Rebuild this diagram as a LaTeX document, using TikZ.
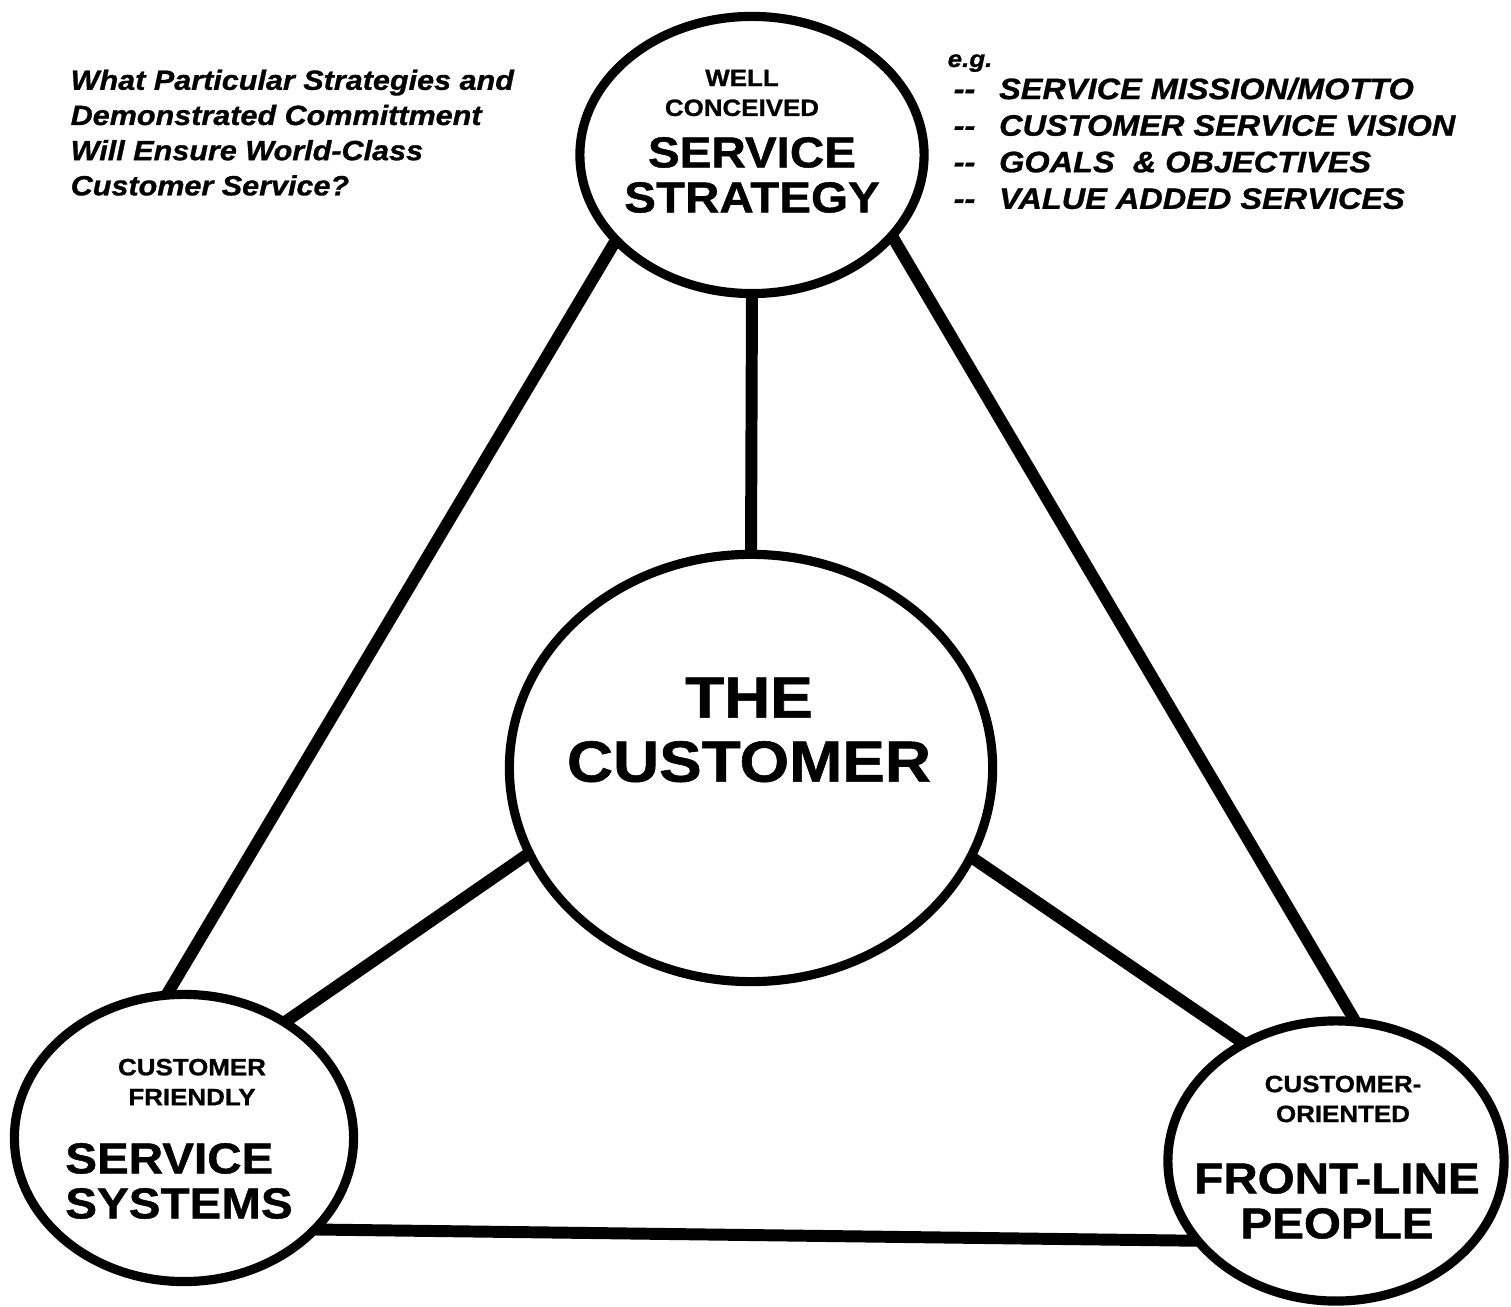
\documentclass[tikz,border=0pt]{standalone}
\usepackage{fontspec}
\setmainfont{Liberation Sans}[FakeStretch=1.1,
  BoldFeatures={FakeBold=1}, BoldItalicFeatures={FakeBold=1}]
\usetikzlibrary{shapes.geometric}
\tikzset{
  oval/.style={ellipse, draw=black, line width=2.6pt, inner sep=0pt, outer sep=0pt},
  Ln/.style={draw=black, line width=3.4pt},
  subt/.style={font=\fontsize{6.7}{8.5}\selectfont\bfseries, align=center, inner sep=0pt},
  ttl/.style={font=\fontsize{12.3}{12.8}\selectfont\bfseries, align=center, inner sep=0pt},
  note/.style={font=\fontsize{7.9}{10}\selectfont\bfseries\itshape, align=left, inner sep=0pt}
}

\begin{document}
\begin{tikzpicture}[x=0.01cm, y=-0.01cm]
  \useasboundingbox (0,0) rectangle (1511,1307);
  % ovals
  \node[oval, minimum width=3.44cm, minimum height=2.77cm] (strat) at (752,155) {};
  \node[oval, minimum width=4.83cm, minimum height=4.27cm] (cust) at (751,768) {};
  \node[oval, minimum width=3.39cm, minimum height=2.87cm] (sys) at (184,1138) {};
  \node[oval, minimum width=3.36cm, minimum height=2.80cm] (ppl) at (1336,1161) {};
  % texts inside the ovals
  \node[subt] (strat_s) at (742,93) {WELL\\CONCEIVED};
  \node[ttl] (strat_t) at (752,175) {SERVICE\\STRATEGY};
  \node[ttl, font=\fontsize{16.5}{18.2}\selectfont\bfseries] (cust_t) at (749,730) {THE\\CUSTOMER};
  \node[subt] (sys_s) at (192,1082) {CUSTOMER\\FRIENDLY};
  \node[ttl, align=left] (sys_t) at (179,1181) {SERVICE\\SYSTEMS};
  \node[subt] (ppl_s) at (1343,1099) {CUSTOMER-\\ORIENTED};
  \node[ttl] (ppl_t) at (1337,1201) {FRONT-LINE\\PEOPLE};
  % side notes
  \node[note, anchor=north west] (quest) at (70,69)
    {What Particular Strategies and\\Demonstrated Committment\\Will Ensure World-Class\\Customer Service?};
  \node[note, font=\fontsize{6.7}{8}\selectfont\bfseries\itshape, anchor=base west] (eg) at (947,67) {e.g.};
  \node[note, font=\fontsize{8.4}{10.4}\selectfont\bfseries\itshape, anchor=north west] (egs) at (953,77)
    {-{}-\enspace\ SERVICE MISSION/MOTTO\\-{}-\enspace\ CUSTOMER SERVICE VISION\\-{}-\enspace\ GOALS\ \ \& OBJECTIVES\\-{}-\enspace\ VALUE ADDED SERVICES};
  % links
  \draw[Ln] (strat.212) -- (sys.97);
  \draw[Ln] (strat.330) -- (ppl.82);
  \draw[Ln] (strat.south) -- (cust.north);
  \draw[Ln] (cust.201) -- (sys.49);
  \draw[Ln] (cust.338) -- (ppl.128);
  \draw[Ln] (sys.325) -- (ppl.210);
\end{tikzpicture}
\end{document}
